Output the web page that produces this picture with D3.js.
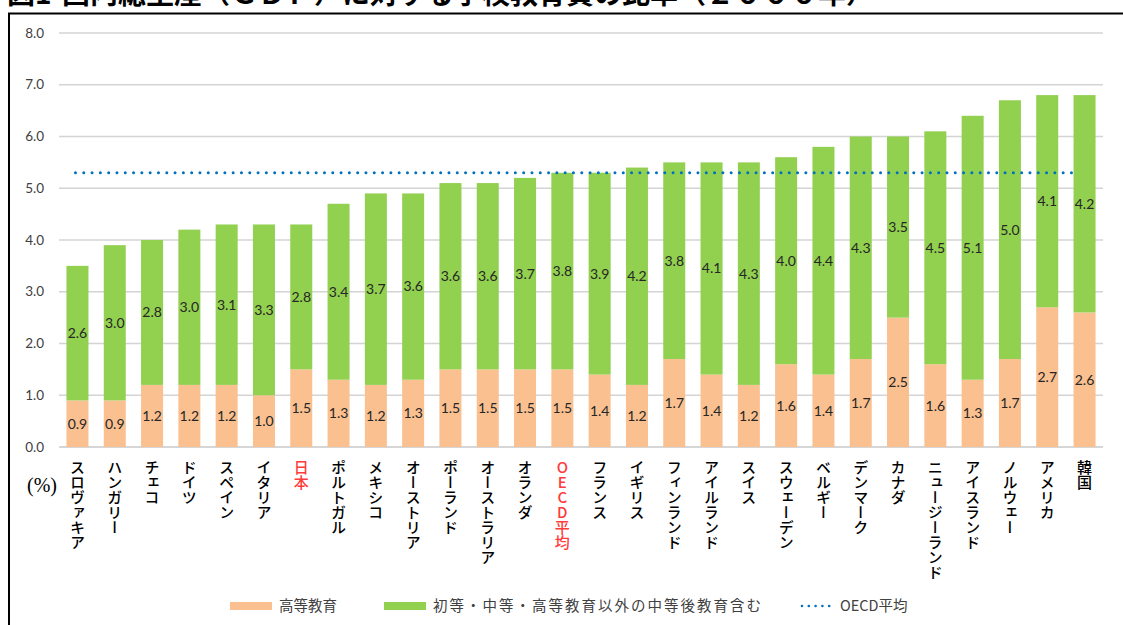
<!DOCTYPE html>
<html>
<head>
<meta charset="utf-8">
<script src="https://cdn.jsdelivr.net/npm/d3@7"></script>
<style>
  html, body { margin: 0; padding: 0; background: #fff; overflow: hidden; }
  svg { display: block; }
  .vlab { writing-mode: vertical-rl; text-orientation: upright; }
</style>
</head>
<body>
<svg id="chart" width="1123" height="625"></svg>
<script>
// ---- data ----
const categories = ["スロヴァキア","ハンガリー","チェコ","ドイツ","スペイン","イタリア","日本","ポルトガル","メキシコ","オーストリア","ポーランド","オーストラリア","オランダ","OECD平均","フランス","イギリス","フィンランド","アイルランド","スイス","スウェーデン","ベルギー","デンマーク","カナダ","ニュージーランド","アイスランド","ノルウェー","アメリカ","韓国"];
const tertiary = [0.9,0.9,1.2,1.2,1.2,1.0,1.5,1.3,1.2,1.3,1.5,1.5,1.5,1.5,1.4,1.2,1.7,1.4,1.2,1.6,1.4,1.7,2.5,1.6,1.3,1.7,2.7,2.6];
const otherEdu = [2.6,3.0,2.8,3.0,3.1,3.3,2.8,3.4,3.7,3.6,3.6,3.6,3.7,3.8,3.9,4.2,3.8,4.1,4.3,4.0,4.4,4.3,3.5,4.5,5.1,5.0,4.1,4.2];
const oecdAverage = 5.3;
const yTicks = [0,1,2,3,4,5,6,7,8];
const highlighted = ["日本","OECD平均"];
const seriesNames = ["高等教育","初等・中等・高等教育以外の中等後教育含む","OECD平均"];
const titleNumber = "図1";
const titleText = "国内総生産（ＧＤＰ）に対する学校教育費の比率（２０００年）";

// ---- layout ----
const svg = d3.select("#chart");
const colors = { tertiary: "#FAC090", other: "#92D050", oecd: "#0070C0" };

const rows = categories.map((c, i) => ({ cat: c, tertiary: tertiary[i], other: otherEdu[i] }));
const stack = d3.stack().keys(["tertiary", "other"]);
const series = stack(rows);

const x = d3.scaleBand().domain(categories).range([59, 1103]).paddingInner(0.41).paddingOuter(0.2);
const y = d3.scaleLinear().domain([0, 8]).range([447, 33]);

// title (partly above the top edge, as in the source)
const title = svg.append("text")
  .attr("y", 4)
  .attr("font-family", "Noto Sans CJK JP").attr("font-weight", 700)
  .attr("font-size", 28).attr("fill", "#000");
title.append("tspan").attr("x", 7).text(titleNumber);
title.append("tspan").attr("x", 62).text(titleText);

// frame
svg.append("rect")
  .attr("x", 9).attr("y", 13.5).attr("width", 1200).attr("height", 700)
  .attr("fill", "none").attr("stroke", "#000").attr("stroke-width", 2);

// gridlines
svg.append("g").selectAll("line").data(yTicks).join("line")
  .attr("x1", 59).attr("x2", 1103)
  .attr("y1", d => y(d)).attr("y2", d => y(d))
  .attr("stroke", d => d === 0 ? "#c8c8c8" : "#d4d4d4").attr("stroke-width", 1.5);

// y tick labels
svg.append("g").selectAll("text").data(yTicks).join("text")
  .attr("x", 44).attr("y", d => y(d)).attr("dy", "0.35em")
  .attr("text-anchor", "end")
  .attr("font-family", "Lato, 'Open Sans', sans-serif").attr("font-size", 13.5)
  .attr("fill", "#404040")
  .text(d => d3.format(".1f")(d));

// bars
const keyColor = { tertiary: colors.tertiary, other: colors.other };
svg.append("g").selectAll("g").data(series).join("g")
  .attr("fill", s => keyColor[s.key])
  .selectAll("rect").data(s => s).join("rect")
  .attr("x", d => x(d.data.cat))
  .attr("width", x.bandwidth())
  .attr("y", d => y(d[1]))
  .attr("height", d => y(d[0]) - y(d[1]));

// value labels
svg.append("g").selectAll("g").data(series).join("g")
  .selectAll("text").data(s => s.map(d => ({ d, key: s.key }))).join("text")
  .attr("x", o => x(o.d.data.cat) + x.bandwidth() / 2)
  .attr("y", o => y((o.d[0] + o.d[1]) / 2))
  .attr("dy", "0.35em")
  .attr("text-anchor", "middle")
  .attr("font-family", "Lato, 'Open Sans', sans-serif").attr("font-size", 14)
  .attr("fill", "#262626")
  .text(o => d3.format(".1f")(o.d.data[o.key]));

// OECD average dotted line
const xStart = x(categories[0]) + x.bandwidth() / 2 - 2;
const xEnd = x(categories[categories.length - 1]) + x.bandwidth() / 2 - 5;
svg.append("line")
  .attr("x1", xStart).attr("x2", xEnd)
  .attr("y1", y(oecdAverage)).attr("y2", y(oecdAverage))
  .attr("stroke", colors.oecd).attr("stroke-width", 3)
  .attr("stroke-linecap", "round").attr("stroke-dasharray", "0 8.3");

// category labels (vertical)
svg.append("g").selectAll("text").data(categories).join("text")
  .attr("class", "vlab")
  .attr("x", d => x(d) + x.bandwidth() / 2)
  .attr("y", 460)
  .attr("font-family", "Noto Sans CJK JP").attr("font-weight", 500)
  .attr("font-size", 15)
  .attr("fill", d => highlighted.includes(d) ? "#FF3B3B" : "#000")
  .text(d => d);

// (%) unit
svg.append("text")
  .attr("x", 27).attr("y", 492)
  .attr("font-family", "'Liberation Serif', serif").attr("font-size", 20)
  .attr("fill", "#000")
  .text("(%)");

// legend
const lg = svg.append("g").attr("font-family", "Noto Sans CJK JP").attr("font-size", 14.5).attr("fill", "#404040");
const legendY = 606;
lg.append("rect").attr("x", 230).attr("y", legendY - 4).attr("width", 42).attr("height", 8).attr("fill", colors.tertiary);
lg.append("text").attr("x", 279).attr("y", legendY).attr("dy", "0.35em").text(seriesNames[0]);
lg.append("rect").attr("x", 384).attr("y", legendY - 4).attr("width", 42).attr("height", 8).attr("fill", colors.other);
lg.append("text").attr("x", 433).attr("y", legendY).attr("dy", "0.35em")
  .attr("textLength", 328).attr("lengthAdjust", "spacing").text(seriesNames[1]);
lg.append("line").attr("x1", 802).attr("x2", 836).attr("y1", legendY).attr("y2", legendY)
  .attr("stroke", colors.oecd).attr("stroke-width", 2.6).attr("stroke-linecap", "round").attr("stroke-dasharray", "0 6.8");
lg.append("text").attr("x", 840).attr("y", legendY).attr("dy", "0.35em").text(seriesNames[2]);
</script>
</body>
</html>
